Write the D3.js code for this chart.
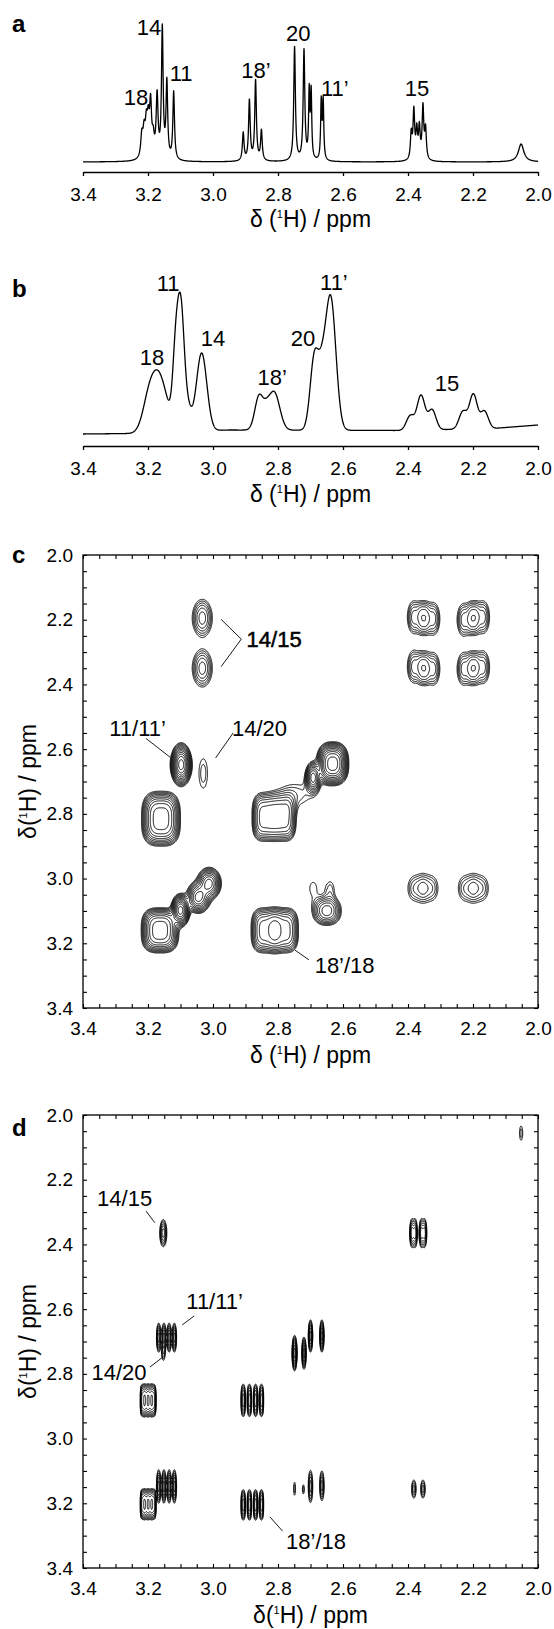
<!DOCTYPE html>
<html>
<head>
<meta charset="utf-8">
<script src="https://cdn.jsdelivr.net/npm/d3@7"></script>
<style>
  body { margin: 0; background: #fff; }
  text { font-family: "Liberation Sans", Arial, sans-serif; fill: #000; }
</style>
</head>
<body>
<script>
(function(){

//chemical shift axis shared by all panels (ppm)
var ppmDomain = [3.4, 2.0];
var tickLabels = [3.4, 3.2, 3.0, 2.8, 2.6, 2.4, 2.2, 2.0];
var minorTicks = [3.4, 3.35, 3.3, 3.25, 3.2, 3.15, 3.1, 3.05, 3.0, 2.95, 2.9, 2.85, 2.8, 2.75,
                  2.7, 2.65, 2.6, 2.55, 2.5, 2.45, 2.4, 2.35, 2.3, 2.25, 2.2, 2.15, 2.1, 2.05, 2.0];

//panel a: resolved 1H lines (position ppm, height, half width ppm)
var linesA_ppm = [3.219, 3.212, 3.205, 3.199, 3.192, 3.184, 3.172, 3.156, 3.142, 3.121,
                  2.907, 2.888, 2.869, 2.851, 2.749, 2.720, 2.704, 2.698, 2.667, 2.661,
                  2.390, 2.382, 2.373, 2.365, 2.354, 2.346, 2.052];
var linesA_int = [22, 24, 30, 32, 50, 18, 62, 130, 76, 68,
                  28, 60, 80, 30, 114, 110, 66, 66, 58, 58,
                  26, 48, 28, 31, 52, 30, 18];
var linesA_hw  = [0.004, 0.004, 0.004, 0.004, 0.0035, 0.004, 0.0035, 0.003, 0.003, 0.003,
                  0.003, 0.003, 0.003, 0.003, 0.003, 0.003, 0.0022, 0.0022, 0.0022, 0.0022,
                  0.003, 0.003, 0.003, 0.003, 0.003, 0.003, 0.01];
var annotA = [["18", 3.237, 65], ["14", 3.197, 135], ["11", 3.098, 89], ["18’", 2.868, 92],
              ["20", 2.738, 129], ["11’", 2.625, 74], ["15", 2.372, 74]];

//panel b: broad bands (position ppm, height, sd ppm) and baseline drift
var bandsB_ppm = [3.200, 3.168, 3.115, 3.099, 3.080, 3.035, 2.858, 2.835, 2.812,
                  2.688, 2.665, 2.638, 2.393, 2.360, 2.326, 2.231, 2.199, 2.165];
var bandsB_int = [18, 58, 70, 113, 25, 78, 34, 10, 38,
                  72, 40, 132, 14.5, 34.5, 20, 17.5, 34.5, 17.5];
var bandsB_sd  = [0.018, 0.026, 0.009, 0.010, 0.012, 0.016, 0.013, 0.010, 0.017,
                  0.013, 0.012, 0.016, 0.012, 0.012, 0.012, 0.012, 0.012, 0.012];
var baseB_ppm = [3.40, 3.25, 2.95, 2.42, 2.14, 2.00];
var baseB_int = [0, 0.5, 4, 3.5, 5.5, 9];
var annotB = [["18", 3.188, 77], ["11", 3.138, 151], ["14", 3.0, 96], ["18’", 2.818, 57],
              ["20", 2.723, 96], ["11’", 2.628, 152], ["15", 2.28, 51]];

//panel c: cross peaks [x ppm, y ppm, outer half width x, outer half width y, contour count, squareness]
var peaksC = [
  [3.033, 2.195, 0.031, 0.058, 6, 2], [3.033, 2.350, 0.031, 0.058, 6, 2],
  [2.352, 2.195, 0.020, 0.052, 6, 2.5], [2.382, 2.192, 0.020, 0.050, 5, 2], [2.322, 2.197, 0.020, 0.050, 5, 2],
  [2.199, 2.195, 0.020, 0.052, 6, 2.5], [2.229, 2.200, 0.020, 0.050, 5, 2], [2.169, 2.192, 0.020, 0.050, 5, 2],
  [2.352, 2.350, 0.020, 0.052, 6, 2.5], [2.382, 2.345, 0.020, 0.050, 5, 2], [2.322, 2.352, 0.020, 0.050, 5, 2],
  [2.199, 2.350, 0.020, 0.052, 6, 2.5], [2.229, 2.352, 0.020, 0.050, 5, 2], [2.169, 2.347, 0.020, 0.050, 5, 2],
  [3.098, 2.648, 0.034, 0.068, 12, 2], [3.030, 2.675, 0.013, 0.045, 2, 2],
  [2.632, 2.645, 0.050, 0.068, 12, 2.5], [2.692, 2.688, 0.025, 0.050, 10, 2], [2.745, 2.740, 0.040, 0.030, 2, 2],
  [2.840, 2.810, 0.040, 0.075, 8, 3], [2.784, 2.810, 0.040, 0.075, 8, 3],
  [3.160, 2.815, 0.060, 0.085, 10, 3],
  [3.163, 3.160, 0.058, 0.070, 10, 3], [3.100, 3.098, 0.030, 0.052, 12, 2],
  [3.045, 3.058, 0.038, 0.050, 10, 2], [3.012, 3.015, 0.038, 0.050, 10, 2],
  [2.838, 3.160, 0.045, 0.070, 8, 3], [2.782, 3.160, 0.045, 0.070, 8, 3],
  [2.650, 3.100, 0.045, 0.045, 8, 2.2], [2.640, 3.035, 0.012, 0.025, 2, 2], [2.692, 3.030, 0.010, 0.018, 1, 2],
  [2.354, 3.030, 0.018, 0.040, 4, 2], [2.326, 3.030, 0.018, 0.035, 3, 2], [2.382, 3.030, 0.018, 0.035, 3, 2],
  [2.199, 3.030, 0.018, 0.040, 4, 2], [2.171, 3.030, 0.018, 0.035, 3, 2], [2.227, 3.030, 0.018, 0.035, 3, 2]
];
var annotC = [["14/15", 2.812, 2.261], ["11/11’", 3.232, 2.536], ["14/20", 2.857, 2.536], ["18’/18", 2.595, 3.267]];
var leadersC = [
  [[2.975, 2.199], [2.913, 2.260], [2.975, 2.345]],
  [[3.206, 2.567], [3.132, 2.625]],
  [[2.938, 2.550], [2.992, 2.627]],
  [[2.748, 3.221], [2.705, 3.251]]
];

//panel d: cross peaks, same columns as panel c
var peaksD = [
  [2.052, 2.056, 0.005, 0.022, 2, 2],
  [3.153, 2.365, 0.011, 0.042, 6, 2],
  [2.388, 2.365, 0.007, 0.044, 6, 2], [2.378, 2.365, 0.007, 0.044, 6, 2],
  [2.359, 2.365, 0.007, 0.044, 6, 2], [2.349, 2.365, 0.007, 0.044, 6, 2],
  [3.167, 2.688, 0.007, 0.045, 6, 2], [3.151, 2.688, 0.007, 0.045, 6, 2],
  [3.135, 2.688, 0.007, 0.045, 6, 2], [3.119, 2.688, 0.007, 0.045, 6, 2],
  [3.153, 2.740, 0.004, 0.016, 2, 2],
  [2.749, 2.736, 0.008, 0.055, 8, 2], [2.720, 2.736, 0.007, 0.050, 7, 2],
  [2.700, 2.683, 0.007, 0.050, 7, 2], [2.665, 2.683, 0.007, 0.050, 7, 2],
  [3.216, 2.882, 0.008, 0.050, 7, 3], [3.205, 2.882, 0.008, 0.050, 7, 3],
  [3.194, 2.882, 0.008, 0.050, 7, 3], [3.183, 2.882, 0.008, 0.050, 7, 3],
  [2.907, 2.882, 0.007, 0.050, 6, 2.5], [2.888, 2.882, 0.007, 0.050, 6, 2.5],
  [2.869, 2.882, 0.007, 0.050, 6, 2.5], [2.851, 2.882, 0.007, 0.050, 6, 2.5],
  [3.216, 3.203, 0.008, 0.047, 7, 3], [3.205, 3.203, 0.008, 0.047, 7, 3],
  [3.194, 3.203, 0.008, 0.047, 7, 3], [3.183, 3.203, 0.008, 0.047, 7, 3],
  [3.167, 3.148, 0.007, 0.052, 6, 2], [3.151, 3.148, 0.007, 0.052, 6, 2],
  [3.135, 3.148, 0.007, 0.052, 6, 2], [3.119, 3.148, 0.007, 0.052, 6, 2],
  [2.907, 3.205, 0.007, 0.047, 6, 2.5], [2.888, 3.205, 0.007, 0.047, 6, 2.5],
  [2.869, 3.205, 0.007, 0.047, 6, 2.5], [2.851, 3.205, 0.007, 0.047, 6, 2.5],
  [2.749, 3.155, 0.003, 0.020, 2, 2], [2.722, 3.157, 0.003, 0.014, 2, 2],
  [2.700, 3.148, 0.007, 0.050, 5, 2], [2.665, 3.146, 0.007, 0.046, 5, 2],
  [2.382, 3.156, 0.007, 0.028, 4, 2], [2.354, 3.156, 0.007, 0.028, 4, 2]
];
var annotD = [["14/15", 3.272, 2.257], ["11/11’", 2.995, 2.576], ["14/20", 3.289, 2.793], ["18’/18", 2.683, 3.316]];
var leadersD = [
  [[3.206, 2.297], [3.179, 2.333]],
  [[3.058, 2.621], [3.095, 2.649]],
  [[3.194, 2.779], [3.154, 2.748]],
  [[2.825, 3.242], [2.786, 3.286]]
];

//page layout
var width = 554, height = 1629;
var plotL = 83, plotR = 538;
var fontTick = 19, fontTitle = 23, fontNote = 22;

var svg = d3.select("body")
    .append("svg")
    .attr("width", width)
    .attr("height", height);

var x = d3.scaleLinear().domain(ppmDomain).range([plotL, plotR]);
var grid = d3.range(2.0, 3.40001, 0.0005);

//panel a
var yA = d3.scaleLinear().domain([0, 140]).range([162, 22]);
var specA = grid.map(function(p){
  var v = 0;
  for (var i = 0; i < linesA_ppm.length; i++){
    var u = (p - linesA_ppm[i]) / linesA_hw[i];
    v += linesA_int[i] / (1 + u * u);
  }
  return [p, v];
});
drawSpectrum(specA, yA, 172, "a", 32, annotA, 227);

//panel b
var yB = d3.scaleLinear().domain([0, 140]).range([434, 294]);
var baseB = d3.scaleLinear().domain(baseB_ppm).range(baseB_int);
var specB = grid.map(function(p){
  var v = baseB(p);
  for (var i = 0; i < bandsB_ppm.length; i++){
    var u = (p - bandsB_ppm[i]) / bandsB_sd[i];
    v += bandsB_int[i] * Math.exp(-0.5 * u * u);
  }
  return [p, v];
});
drawSpectrum(specB, yB, 446, "b", 297, annotB, 502);

//panels c and d
var yC = d3.scaleLinear().domain([2.0, 3.4]).range([555, 1008]);
drawContourPanel(yC, peaksC, annotC, leadersC, "c", 563, "δ (", 1063, 2);
var yD = d3.scaleLinear().domain([2.0, 3.4]).range([1115, 1568]);
drawContourPanel(yD, peaksD, annotD, leadersD, "d", 1136, "δ(", 1623, 3);

function panelLabel(t, y){
  svg.append("text").attr("x", 12).attr("y", y)
     .attr("font-size", 24).attr("font-weight", "bold").text(t);
}

function ppmTitle(sel, lead){
  sel.append("tspan").text(lead);
  sel.append("tspan").attr("font-size", 11).attr("dy", -9).text("1");
  sel.append("tspan").attr("dy", 9).text("H) / ppm");
}

function drawSpectrum(data, y, axisY, label, labelY, annot, titleY){
  svg.append("path")
     .datum(data)
     .attr("fill", "none")
     .attr("stroke", "#000")
     .attr("stroke-width", 1.3)
     .attr("stroke-linejoin", "round")
     .attr("d", d3.line().x(function(d){ return x(d[0]); }).y(function(d){ return y(d[1]); }));

  var ax = svg.append("g")
     .attr("transform", "translate(0," + axisY + ")")
     .call(d3.axisBottom(x).tickValues(tickLabels).tickFormat(d3.format(".1f"))
           .tickSize(4).tickSizeOuter(0).tickPadding(12));
  ax.attr("font-size", fontTick);
  ax.selectAll("path, line").attr("stroke-width", 1.3);

  svg.selectAll(null)
     .data(annot)
     .enter()
     .append("text")
     .attr("x", function(d){ return x(d[1]); })
     .attr("y", function(d){ return y(d[2]); })
     .attr("dy", "0.36em")
     .attr("text-anchor", "middle")
     .attr("font-size", fontNote)
     .text(function(d){ return d[0]; });

  var t = svg.append("text")
     .attr("x", (plotL + plotR) / 2)
     .attr("y", titleY)
     .attr("text-anchor", "middle")
     .attr("font-size", fontTitle);
  ppmTitle(t, "δ (");

  panelLabel(label, labelY);
}

function drawContourPanel(y, peaks, annot, leaders, label, labelY, lead, titleY, ss){
  var top = y.range()[0], bottom = y.range()[1];
  var nx = Math.round((plotR - plotL) * ss), ny = Math.round((bottom - top) * ss);
  var vals = new Float64Array(nx * ny);
  var ratio = 1.28;
  var kx = (plotR - plotL) / 1.4 * ss, ky = (bottom - top) / 1.4 * ss;

  peaks.forEach(function(p){
    var cx = (x(p[0]) - plotL) * ss, cy = (y(p[1]) - top) * ss;
    var rx = p[2] * kx, ry = p[3] * ky;
    var lnA = (p[4] - 0.4) * Math.log(ratio), pw = p[5];
    var i0 = Math.max(0, Math.floor(cx - 4 * rx)), i1 = Math.min(nx - 1, Math.ceil(cx + 4 * rx));
    var j0 = Math.max(0, Math.floor(cy - 4 * ry)), j1 = Math.min(ny - 1, Math.ceil(cy + 4 * ry));
    for (var j = j0; j <= j1; j++){
      var dy = Math.pow(Math.abs((j + 0.5 - cy) / ry), pw);
      for (var i = i0; i <= i1; i++){
        var dx = Math.pow(Math.abs((i + 0.5 - cx) / rx), pw);
        vals[j * nx + i] += Math.exp(lnA * (1 - dx - dy));
      }
    }
  });

  var levels = d3.range(0, 16).map(function(k){ return Math.pow(ratio, k); });
  var contours = d3.contours().size([nx, ny]).thresholds(levels)(vals);
  var path = d3.geoPath(d3.geoIdentity().scale(1 / ss).translate([plotL, top]));

  svg.append("g")
     .selectAll("path")
     .data(contours)
     .enter()
     .append("path")
     .attr("d", path)
     .attr("fill", "none")
     .attr("stroke", "#000")
     .attr("stroke-width", 1.0)
     .attr("stroke-linejoin", "round");

  //frame and inward ticks on all four sides
  svg.append("rect")
     .attr("x", plotL).attr("y", top)
     .attr("width", plotR - plotL).attr("height", bottom - top)
     .attr("fill", "none").attr("stroke", "#000").attr("stroke-width", 1.3);

  var sides = [
    [d3.axisBottom(x), "translate(0," + bottom + ")"],
    [d3.axisTop(x), "translate(0," + top + ")"],
    [d3.axisLeft(y), "translate(" + plotL + ",0)"],
    [d3.axisRight(y), "translate(" + plotR + ",0)"]
  ];
  sides.forEach(function(s){
    var g = svg.append("g").attr("transform", s[1])
       .call(s[0].tickValues(minorTicks).tickSize(-4).tickFormat(""));
    g.select(".domain").remove();
    g.selectAll("line").attr("stroke-width", 1.1);
  });

  var bx = svg.append("g").attr("transform", "translate(0," + bottom + ")")
     .call(d3.axisBottom(x).tickValues(tickLabels).tickFormat(d3.format(".1f")).tickSize(0).tickPadding(14));
  bx.select(".domain").remove();
  bx.attr("font-size", fontTick);

  var ly = svg.append("g").attr("transform", "translate(" + plotL + ",0)")
     .call(d3.axisLeft(y).tickValues(tickLabels).tickFormat(d3.format(".1f")).tickSize(0).tickPadding(10));
  ly.select(".domain").remove();
  ly.attr("font-size", fontTick);

  //annotations
  svg.selectAll(null)
     .data(annot)
     .enter()
     .append("text")
     .attr("x", function(d){ return x(d[1]); })
     .attr("y", function(d){ return y(d[2]); })
     .attr("dy", "0.36em")
     .attr("text-anchor", "middle")
     .attr("font-size", fontNote)
     .attr("stroke", function(d){ return d[0] === "14/15" && label === "c" ? "#000" : null; })
     .attr("stroke-width", 0.5)
     .text(function(d){ return d[0]; });

  var leader = d3.line().x(function(d){ return x(d[0]); }).y(function(d){ return y(d[1]); });
  svg.selectAll(null)
     .data(leaders)
     .enter()
     .append("path")
     .attr("d", leader)
     .attr("fill", "none")
     .attr("stroke", "#000")
     .attr("stroke-width", 0.9);

  //axis titles
  var t = svg.append("text")
     .attr("x", (plotL + plotR) / 2)
     .attr("y", titleY)
     .attr("text-anchor", "middle")
     .attr("font-size", fontTitle);
  ppmTitle(t, lead);

  var yt = svg.append("text")
     .attr("transform", "translate(36," + ((top + bottom) / 2) + ") rotate(-90)")
     .attr("text-anchor", "middle")
     .attr("font-size", fontTitle);
  ppmTitle(yt, "δ(");

  panelLabel(label, labelY);
}

})();
</script>
</body>
</html>
